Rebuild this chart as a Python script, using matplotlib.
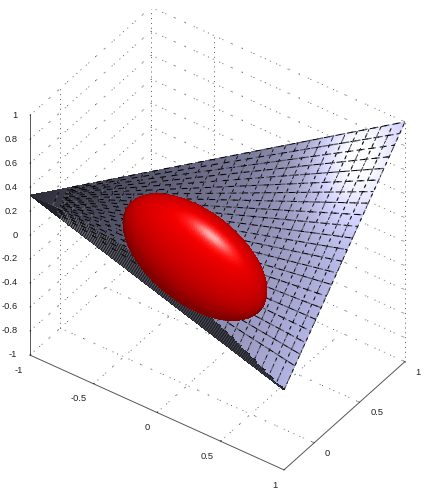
import numpy as np
import matplotlib
matplotlib.use('Agg')
import matplotlib.pyplot as plt
from mpl_toolkits.mplot3d import proj3d

plt.rcParams['font.family'] = ['Liberation Sans', 'DejaVu Sans']

# axis ticks
xticks = [-1, -0.5, 0, 0.5, 1]
yticks = [0, 0.5, 1]
zticks = [-1, -0.8, -0.6, -0.4, -0.2, 0, 0.2, 0.4, 0.6, 0.8, 1]
xticklabels = ['-1', '-0.5', '0', '0.5', '1']
yticklabels = ['0', '0.5', '1']
zticklabels = ['-1', '-0.8', '-0.6', '-0.4', '-0.2', '0', '0.2', '0.4', '0.6', '0.8', '1']
ylims = [-1/3, 1]

# grid verticals that are really there
xwall_verticals = [-1, -0.5, 1]
ywall_verticals = [0]

# triangle corners
tri_a = np.array([-1, -1/3, 1/3])
tri_b = np.array([1, -1/3, -1/3])
tri_c = np.array([1, 1, 1])
highlight_xy = np.array([0.795, 0.736])

# ellipsoid centre and axes in data units
ell_c = np.array([0.1285, -0.0944, 0.196])
ell_d1 = np.array([0.524, -0.0054, -0.18])
ell_d2 = np.array([-0.0714, -0.2142, -0.19])
ell_d3 = np.array([0.09, -0.126, 0.128])

# mesh lines on the triangle
u_lines = np.linspace(0.08, 1, 30)
v_lines = np.linspace(0.09, 1, 22)
v_band = np.linspace(0.0, 0.26, 50)

fig = plt.figure(figsize=(4.27, 4.94), dpi=100)
ax = fig.add_axes([0.0, 0.0, 1.0, 1.0], projection='3d', proj_type='ortho', computed_zorder=False)
ax.patch.set_visible(False)
ax.view_init(elev=39.5, azim=-54.6)
ax.set_box_aspect((311.8, 209, 311), zoom=1)
ax.set_xlim(-1, 1, view_margin=0)
ax.set_ylim(ylims[0], ylims[1], view_margin=0)
ax.set_zlim(-1, 1, view_margin=0)
ax.set_xticks(xticks)
ax.set_yticks(yticks)
ax.set_zticks(zticks)
ax.set_xticklabels(xticklabels, ha='right', va='bottom')
ax.set_yticklabels(yticklabels, ha='left', va='bottom')
ax.set_zticklabels(zticklabels, ha='right', va='center')
ax.tick_params(labelsize=6.7, colors='#222222')
ax.tick_params(axis='x', pad=2)
ax.tick_params(axis='y', pad=-0.5)
ax.tick_params(axis='z', pad=-2)
ax.grid(False)
for a in [ax.xaxis, ax.yaxis, ax.zaxis]:
    a.set_pane_color((1, 1, 1, 0))
    a.pane.set_edgecolor((1, 1, 1, 0))
    a.line.set_color('#555555')
    a.line.set_linewidth(0.7)
    a._axinfo['tick']['inward_factor'] = 0.0
    a._axinfo['tick']['outward_factor'] = 0.08
    a._axinfo['tick']['linewidth'] = {True: 0.5, False: 0.5}
ax.zaxis.set_ticks_position('lower')


def dotted(xs, ys, zs):
    # the grid in the picture is a sparse mix of dark dots and pale specks
    ax.plot(xs, ys, zs, color='#222222', lw=0.6, ls=(0, (1, 14)), zorder=1)
    ax.plot(xs, ys, zs, color='#aaaaaa', lw=0.8, ls=(5, (1.4, 8)), zorder=1)


for z in zticks:
    dotted([-1, -1], ylims, [z, z])
    dotted([-1, 1], [1, 1], [z, z])
for x in xticks[1:-1]:
    dotted([x, x], ylims, [-1, -1])
for y in yticks[:-1]:
    dotted([-1, 1], [y, y], [-1, -1])
for x in xwall_verticals:
    ax.plot([x, x], [1, 1], [-1, 1], color='#555555', lw=0.7, ls=(0, (1, 4)), zorder=1)
for y in ywall_verticals:
    ax.plot([-1, -1], [y, y], [-1, 1], color='#555555', lw=0.7, ls=(0, (1, 4)), zorder=1)

# triangle surface
uu, vv = np.meshgrid(np.linspace(0, 1, 140), np.linspace(0, 1, 140))
a3 = tri_a.reshape(3, 1, 1)
b3 = tri_b.reshape(3, 1, 1)
c3 = tri_c.reshape(3, 1, 1)
P = a3 * (1 - uu) + uu * ((1 - vv) * b3 + vv * c3)
r2 = (P[0] - highlight_xy[0])**2 + (P[1] - highlight_xy[1])**2
base = 0.2 + 0.64 * uu
glow = 0.36 * np.exp(-r2 / 0.09)
band = vv < 0.28 * (1 - uu)**1.2
face = np.dstack([base * 0.84 + glow, base * 0.84 + glow, base * 1.06 + glow, np.ones_like(uu)])
face[band] = (0.13, 0.13, 0.16, 1)
face = np.clip(face, 0, 1)
ax.plot_surface(P[0], P[1], P[2], facecolors=face, rstride=1, cstride=1, shade=False,
                linewidth=0, antialiased=False, zorder=2)

# dense speckled band along the lower edge
for v in v_band:
    e = (1 - v) * tri_b + v * tri_c
    u_end = 1 - (v / 0.28)**(1 / 1.2)
    ax.plot(*np.column_stack([tri_a + 0.12 * (e - tri_a), tri_a + u_end * (e - tri_a)]),
            color='#6f6f79', lw=0.5, ls=(0, (1.2, 2.2)), zorder=3)

# radial and cross mesh lines, each one broken into black and grey pieces
for i, v in enumerate(v_lines):
    e = (1 - v) * tri_b + v * tri_c
    seg = np.column_stack([tri_a + 0.1 * (e - tri_a), e])
    off = (i * 2.7) % 9
    ax.plot(*seg, color='#555560', lw=0.9, ls=(off, (4, 5)), zorder=3)
    ax.plot(*seg, color='black', lw=0.7, ls=(off + 4.5, (6, 6)), zorder=3)
for i, u in enumerate(u_lines):
    v_start = 0.28 * (1 - u)**1.2
    s = tri_a + u * ((1 - v_start) * tri_b + v_start * tri_c - tri_a)
    t = tri_a + u * (tri_c - tri_a)
    seg = np.column_stack([s, t])
    off = (i * 1.9) % 7
    ax.plot(*seg, color='#666670', lw=0.9, ls=(off, (3, 4)), zorder=3)
    ax.plot(*seg, color='black', lw=0.55, ls=(off + 3.5, (4, 5)), zorder=3)

# ellipsoid, colours per facet
phi, th = np.meshgrid(np.linspace(0, np.pi / 2, 70), np.linspace(0, 2 * np.pi, 180))
p1 = np.cos(phi) * np.cos(th)
p2 = np.cos(phi) * np.sin(th)
p3 = np.sin(phi)
E = (ell_c.reshape(3, 1, 1) + ell_d1.reshape(3, 1, 1) * p1 + ell_d2.reshape(3, 1, 1) * p2
     + ell_d3.reshape(3, 1, 1) * p3)
n = np.dstack([p1 / 84, p2 / 46, p3 / 46])
n = n / np.linalg.norm(n, axis=2, keepdims=True)
light = np.array([-0.1, -0.4, 0.91])
half = np.array([0.0, -0.58, 0.81])
nl = np.clip(n @ light, 0, 1)
nh = np.clip(n @ half, 0, 1)
spec = 0.9 * nh**90 + 0.12 * nh**12
red = 0.5 + 0.4 * nl
ell_face = np.dstack([np.clip(red + spec, 0, 1), np.clip(spec - 0.06, 0, 1), np.clip(spec - 0.06, 0, 1),
                      np.ones_like(nl)])
ax.plot_surface(E[0], E[1], E[2], facecolors=ell_face, rstride=1, cstride=1, shade=False,
                linewidth=0, antialiased=False, zorder=4)


# fit the box onto the corners seen in the picture
def to_px(p):
    xp, yp, _ = proj3d.proj_transform(p[0], p[1], p[2], ax.get_proj())
    return ax.transData.transform((xp, yp))


corner_lo = (-1, ylims[0], -1)
corner_hi = (1, 1, 1)
want_lo = np.array([30, 494 - 355])
want_hi = np.array([405, 494 - 122])
for i in range(3):
    fig.canvas.draw()
    lo, hi = to_px(corner_lo), to_px(corner_hi)
    k = np.linalg.norm(want_hi - want_lo) / np.linalg.norm(hi - lo)
    bb = ax.get_position(original=True)
    w, h = 427 * bb.width, 494 * bb.height
    cx, cy = 427 * (bb.x0 + bb.width / 2), 494 * (bb.y0 + bb.height / 2)
    mid_now, mid_want = (lo + hi) / 2, (want_lo + want_hi) / 2
    cx2 = mid_want[0] + (cx - mid_now[0]) * k
    cy2 = mid_want[1] + (cy - mid_now[1]) * k
    ax.set_position([(cx2 - w * k / 2) / 427, (cy2 - h * k / 2) / 494, w * k / 427, h * k / 494])

fig.savefig('out.png', dpi=100)
